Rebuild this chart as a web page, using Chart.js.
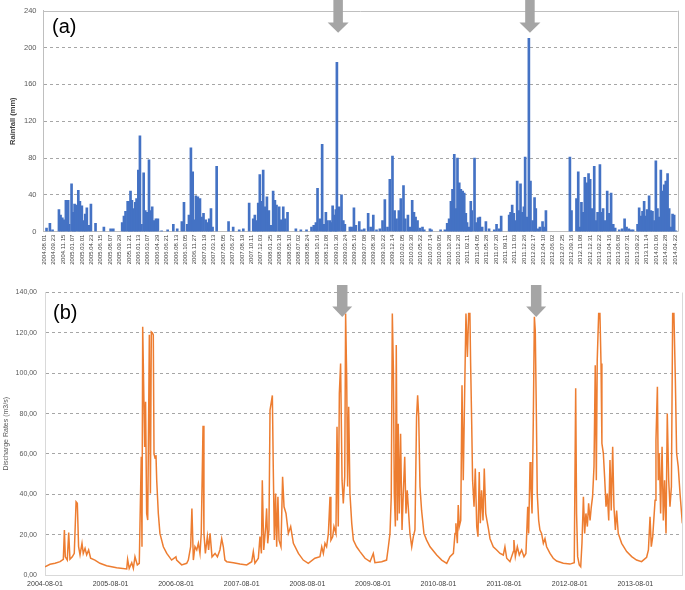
<!DOCTYPE html>
<html>
<head>
<meta charset="utf-8">
<script src="https://cdn.jsdelivr.net/npm/chart.js@4.4.1/dist/chart.umd.min.js"></script>
<style>
  body { margin: 0; background: #fff; }
  .panel { position: absolute; left: 0; width: 685px; }
</style>
</head>
<body>
<div class="panel" style="top:0;height:285px"><canvas id="rainChart"></canvas></div>
<div class="panel" style="top:285px;height:305px"><canvas id="flowChart"></canvas></div>
<script>
// Daily rainfall (mm), day number counted from 2004-08-01
const rainDay = [
  13, 32, 47, 83, 92, 102, 111, 122, 135, 141, 154, 164, 171, 178, 192, 201, 212, 222, 231, 240, 252, 263, 289, 336, 374, 389,
  439, 449, 458, 470, 479, 486, 494, 503, 513, 520, 530, 539, 548, 560, 569, 580, 590, 597, 608, 618, 629, 640, 661, 695, 727, 749,
  775, 787, 805, 815, 826, 836, 845, 854, 865, 877, 886, 897, 909, 920, 929, 939, 948, 971, 1038, 1064, 1098, 1121,
  1154, 1177, 1186, 1196, 1205, 1214, 1224, 1233, 1243, 1254, 1265, 1276, 1289, 1299, 1308, 1323, 1333, 1346, 1357, 1370, 1417, 1445, 1477,
  1505, 1518, 1530, 1539, 1552, 1565, 1575, 1586, 1595, 1609, 1614, 1624, 1635, 1642, 1648, 1661, 1674, 1684, 1693, 1721, 1731, 1744, 1755, 1774, 1787, 1802,
  1824, 1838, 1853, 1871, 1890, 1905, 1918, 1933, 1946, 1961, 1973, 1984, 1997, 2008, 2023, 2033, 2048, 2059, 2072, 2082, 2091, 2102, 2115, 2130, 2140, 2172, 2181,
  2232, 2256, 2269, 2280, 2290, 2299, 2309, 2318, 2327, 2337, 2346, 2356, 2365, 2374, 2381, 2393, 2402, 2408, 2423, 2434, 2443, 2453, 2466, 2487, 2505, 2534, 2547, 2562,
  2573, 2618, 2626, 2635, 2644, 2654, 2663, 2674, 2682, 2693, 2701, 2708, 2718, 2729, 2738, 2750, 2761, 2768, 2781, 2791, 2806, 2813, 2825,
  2960, 2969, 2997, 3007, 3016, 3025, 3035, 3044, 3054, 3065, 3074, 3086, 3097, 3106, 3116, 3129, 3138, 3147, 3159, 3170, 3181, 3192, 3204, 3215, 3238, 3254, 3268, 3279, 3292, 3305, 3316,
  3341, 3350, 3360, 3369, 3378, 3388, 3395, 3406, 3416, 3425, 3436, 3444, 3453, 3463, 3472, 3481, 3491, 3500, 3510, 3519, 3528, 3538, 3547, 3557
];
const rainMm = [
  4, 9, 2, 24, 18, 15, 13, 34, 34, 8, 52, 21, 30, 29, 45, 33, 28, 12, 19, 26, 7, 30, 9, 5, 3, 3,
  10, 17, 22, 33, 33, 44, 34, 25, 32, 36, 67, 104, 8, 64, 23, 21, 78, 23, 27, 12, 14, 14, 1, 2, 8, 3,
  11, 32, 8, 18, 91, 65, 13, 39, 38, 36, 16, 20, 13, 10, 14, 25, 5, 71, 11, 5, 2, 3,
  31, 14, 18, 12, 31, 62, 33, 67, 27, 38, 23, 7, 44, 34, 29, 27, 13, 27, 14, 21, 3, 2, 2,
  5, 7, 10, 47, 14, 95, 8, 21, 12, 12, 10, 28, 18, 24, 184, 27, 40, 12, 8, 5, 5, 26, 7, 11, 2, 3,
  20, 5, 18, 2, 3, 12, 35, 5, 57, 82, 23, 14, 23, 36, 50, 14, 18, 5, 34, 21, 16, 12, 4, 5, 2, 3, 2,
  2, 2, 9, 14, 33, 46, 84, 25, 80, 53, 46, 44, 42, 20, 10, 5, 33, 23, 80, 10, 15, 16, 5, 11, 3, 2, 8, 3,
  17, 18, 21, 29, 20, 12, 55, 23, 52, 21, 27, 81, 16, 210, 55, 12, 37, 25, 3, 5, 11, 5, 23,
  81, 23, 36, 65, 5, 32, 21, 59, 53, 63, 57, 25, 71, 12, 21, 73, 21, 25, 12, 44, 20, 42, 8, 4, 2, 3, 14, 5, 3, 2, 2,
  8, 26, 17, 22, 33, 17, 24, 39, 23, 22, 12, 77, 25, 16, 67, 44, 51, 55, 63, 25, 5, 19, 18, 1
];
const rainTickLabels = [
  '2004.08.01', '2004.09.23', '2004.11.15', '2005.01.07', '2005.03.01', '2005.04.23', '2005.06.15', '2005.08.07', '2005.09.29',
  '2005.11.21', '2006.01.13', '2006.03.07', '2006.04.29', '2006.06.21', '2006.08.13', '2006.10.05', '2006.11.27', '2007.01.19',
  '2007.03.13', '2007.05.05', '2007.06.27', '2007.08.19', '2007.10.11', '2007.12.03', '2008.01.25', '2008.03.18', '2008.05.10',
  '2008.07.02', '2008.08.24', '2008.10.16', '2008.12.08', '2009.01.30', '2009.03.24', '2009.05.16', '2009.07.08', '2009.08.30',
  '2009.10.22', '2009.12.14', '2010.02.05', '2010.03.30', '2010.05.22', '2010.07.14', '2010.09.05', '2010.10.28', '2010.12.20',
  '2011.02.11', '2011.04.05', '2011.05.28', '2011.07.20', '2011.09.11', '2011.11.03', '2011.12.26', '2012.02.17', '2012.04.10',
  '2012.06.02', '2012.07.25', '2012.09.16', '2012.11.08', '2012.12.31', '2013.02.22', '2013.04.16', '2013.06.08', '2013.07.31',
  '2013.09.22', '2013.11.14', '2014.01.06', '2014.02.28', '2014.04.22'
];

// Discharge (m3/s), same day numbering
const flowDay = [
  0, 28, 56, 84, 102, 108, 113, 124, 132, 139, 152, 163, 173, 180, 187, 195, 206, 213, 223, 232, 243, 254, 278, 306, 343, 399, 455, 460, 469, 483, 492, 501, 514, 525,
  529, 536, 540, 544, 555, 560, 566, 572, 581, 587, 592, 598, 603, 607, 613, 618, 622, 631, 640, 659, 678, 705, 729, 733, 761, 789, 798,
  811, 818, 826, 835, 845, 854, 863, 870, 880, 885, 893, 904, 911, 919, 930, 947, 960, 974, 984, 993, 1002,
  1012, 1049, 1086, 1123, 1151, 1160, 1169, 1188, 1197, 1205, 1210, 1218, 1229, 1234, 1240, 1247, 1253, 1266, 1271, 1277, 1284, 1290, 1297, 1303, 1314,
  1323, 1331, 1342, 1355, 1368, 1383, 1411, 1438, 1466, 1503, 1531, 1541, 1550, 1559, 1568, 1578, 1587, 1592, 1602, 1609, 1620, 1626, 1633, 1639, 1646,
  1654, 1661, 1669, 1674, 1680, 1685, 1691, 1698, 1708, 1717, 1735, 1754, 1782, 1810, 1828, 1837, 1875, 1902, 1912, 1921, 1928, 1934, 1940, 1945,
  1951, 1956, 1962, 1967, 1973, 1980, 1988, 1995, 2003, 2010, 2017, 2025, 2032, 2042, 2051, 2060, 2069, 2075, 2081, 2088, 2097, 2110, 2125, 2144, 2181, 2209,
  2237, 2255, 2274, 2283, 2288, 2296, 2301, 2307, 2315, 2322, 2329, 2337, 2344, 2352, 2359, 2366, 2370, 2376, 2381, 2389, 2396, 2404, 2411, 2418, 2424,
  2431, 2439, 2446, 2454, 2461, 2469, 2478, 2496, 2515, 2534, 2552, 2561, 2571, 2589, 2608, 2611, 2619, 2630, 2641, 2654, 2667, 2678, 2688, 2693,
  2701, 2706, 2712, 2719, 2725, 2730, 2736, 2741, 2749, 2756, 2765, 2775, 2784, 2793, 2812, 2830, 2849, 2886, 2923, 2947, 2955, 2960, 2966, 2975, 2983,
  2990, 2998, 3005, 3012, 3020, 3027, 3035, 3042, 3049, 3057, 3064, 3070, 3075, 3083, 3090, 3096, 3101, 3109, 3116, 3124, 3131, 3139, 3146, 3153, 3161,
  3168, 3176, 3183, 3192, 3211, 3239, 3267, 3294, 3322, 3350, 3360, 3369, 3376, 3384, 3397, 3402, 3410, 3415, 3421, 3428, 3436, 3443, 3450, 3458,
  3465, 3473, 3480, 3488, 3495, 3502, 3510, 3517, 3526, 3536, 3549
];
const flowRate = [
  4.1, 5.3, 5.8, 6.6, 7.8, 22.3, 9, 7.4, 21, 7.8, 9, 10.7, 36.3, 35.5, 14, 10, 15.7, 10.7, 13.2, 10, 12.4, 8.3, 7.4, 5.8, 4.6, 3.6, 3.0, 7.8, 3.3, 6.1, 3.3, 9.1, 5, 5.8,
  25.6, 58.6, 14, 123, 63.5, 85.8, 30.5, 27.2, 119, 40.4, 120.5, 120, 119, 60, 57.8, 59.4, 47, 30.5, 20.6, 14, 10.7, 7.4, 9, 7.4, 5, 5.8, 7.4,
  14, 33, 7.4, 14, 12.4, 15.7, 10.7, 20.6, 74, 20.6, 10.7, 19, 12.4, 20.6, 9, 10.7, 9, 12.4, 18, 14, 7.4,
  6.6, 6.1, 5.4, 5, 6.6, 11.6, 5.8, 8.3, 19, 10.7, 47, 12.4, 24, 33, 15.7, 22.3, 81.7, 89, 53.7, 17.3, 40.4, 14, 38.8, 17.3, 14,
  48.7, 33.8, 30.5, 20.6, 24, 15.7, 10.7, 7.4, 5.8, 8.3, 9.1, 14, 10.7, 15.7, 14, 20.6, 38.8, 17.3, 19, 24, 20.6, 73.5, 24, 90, 104.8,
  47, 35.5, 48.7, 129.6, 96.6, 43.8, 83.4, 40.4, 25.6, 17.3, 14, 11.6, 8.3, 6.6, 10.7, 6.1, 6.6, 7.4, 14, 20.6, 38.8, 129.6, 101.5, 40.4,
  24, 114, 27, 75, 30.5, 70, 22.3, 40.4, 58.6, 30.5, 42, 30.5, 20.6, 14, 19, 22.3, 78.4, 89, 78.4, 43.8, 32, 20.6, 17.3, 14, 9.9, 7.4,
  5.8, 9.1, 10.7, 20.6, 25.6, 15.7, 34.7, 24, 27, 94, 47, 91.6, 129.6, 108, 129.6, 129.6, 104.8, 75, 47, 33.8, 52.8, 24, 19, 51, 25.6,
  42, 27, 52.8, 30.5, 27, 23, 18, 14, 12.4, 10.7, 9.9, 14, 8.3, 6.6, 11.6, 17.3, 9.1, 14, 9.9, 12.4, 9.1, 10.7, 33.8, 20.6,
  56, 43.8, 30.5, 76.8, 128, 121, 80, 40.4, 27, 22.3, 20.6, 15.7, 18, 14, 10.7, 8.3, 6.9, 5.8, 5.4, 6.1, 92.5, 30.5, 9.1, 5, 4.1,
  15.7, 38.8, 20.6, 30.5, 24, 35.5, 27, 33.8, 38.8, 53.7, 104, 47, 106.5, 129.6, 129.6, 104.8, 65.2, 60.3, 48.7, 33.8, 40.4, 27, 57, 32, 63.5,
  33.8, 22.3, 32, 20.6, 15.7, 11.6, 9.1, 7.4, 6.6, 8.8, 12.4, 28.9, 14, 19, 37, 66.9, 93.3, 47, 60.3, 30.5, 63.5, 27, 47, 20.6,
  80, 47, 33.8, 43.8, 129.6, 129.6, 96.6, 60.3, 53.7, 40.4, 25.6
];
const flowTickLabels = [
  '2004-08-01', '2005-08-01', '2006-08-01', '2007-08-01', '2008-08-01',
  '2009-08-01', '2010-08-01', '2011-08-01', '2012-08-01', '2013-08-01'
];

// the two marked storm events (arrows)
const arrowDay = [1655, 2735];

const T0 = Date.UTC(2004, 7, 1);
function dayOf(s) {
  const p = s.split(/[.\-]/).map(Number);
  return Math.round((Date.UTC(p[0], p[1] - 1, p[2]) - T0) / 864e5);
}
const rainTickDay = rainTickLabels.map(dayOf);
const flowTickDay = flowTickLabels.map(dayOf);

Chart.defaults.font.family = "'Liberation Sans', Arial, sans-serif";
Chart.defaults.animation = false;

function drawArrow(ctx, cx, top, headTop, tip, sw, hw) {
  ctx.save();
  ctx.fillStyle = '#a5a5a5';
  ctx.beginPath();
  ctx.moveTo(cx - sw / 2, top);
  ctx.lineTo(cx + sw / 2, top);
  ctx.lineTo(cx + sw / 2, headTop);
  ctx.lineTo(cx + hw / 2, headTop);
  ctx.lineTo(cx, tip);
  ctx.lineTo(cx - hw / 2, headTop);
  ctx.lineTo(cx - sw / 2, headTop);
  ctx.closePath();
  ctx.fill();
  ctx.restore();
}

// frame lines, panel letter and arrows
const decoPlugin = {
  id: 'deco',
  beforeDatasetsDraw(chart, args, opts) {
    const a = chart.chartArea;
    const ctx = chart.ctx;
    ctx.save();
    ctx.strokeStyle = opts.frameColor;
    ctx.lineWidth = 1;
    ctx.beginPath();
    ctx.moveTo(Math.round(a.right) + 0.5, a.top);
    ctx.lineTo(Math.round(a.right) + 0.5, a.bottom);
    if (opts.topLine) {
      ctx.moveTo(a.left, Math.round(a.top) + 0.5);
      ctx.lineTo(a.right, Math.round(a.top) + 0.5);
    }
    ctx.stroke();
    ctx.restore();
  },
  afterDraw(chart, args, opts) {
    const ctx = chart.ctx;
    ctx.save();
    ctx.fillStyle = '#000';
    ctx.font = "20px 'Liberation Sans', Arial, sans-serif";
    ctx.textBaseline = 'top';
    ctx.fillText(opts.letter, opts.letterX, opts.letterY);
    ctx.restore();
    const xs = chart.scales.x;
    const ar = opts.arrow;
    arrowDay.forEach(d => {
      drawArrow(ctx, xs.getPixelForValue(d), ar.top, ar.headTop, ar.tip, ar.sw, ar.hw);
    });
  }
};

const dashGrid = ctx => (ctx.tick.value === 0 || ctx.tick.value === ctx.scale.max && ctx.chart.canvas.id === 'rainChart') ? 'transparent' : '#a6a6a6';

// fixed axis sizes so the plot areas land where they are in the original
const fixY = w => s => { s.width = w; s.paddingTop = 0; s.paddingBottom = 0; };
const fixX = h => s => { s.height = h; s.paddingLeft = 0; s.paddingRight = 0; };

new Chart(document.getElementById('rainChart'), {
  type: 'bar',
  data: {
    datasets: [{
      label: 'Rainfall (mm)',
      data: rainDay.map((d, i) => ({ x: d, y: rainMm[i] })),
      backgroundColor: '#4472C4',
      borderWidth: 0,
      barThickness: 2
    }]
  },
  options: {
    responsive: true,
    maintainAspectRatio: false,
    layout: { padding: { top: 10.7, right: 7.3, left: 0, bottom: 0 } },
    plugins: {
      legend: { display: false },
      tooltip: { enabled: false },
      deco: {
        frameColor: '#bfbfbf', topLine: true, letter: '(a)', letterX: 52, letterY: 17,
        arrow: { top: 0, headTop: 22.5, tip: 32.7, sw: 9.5, hw: 21 }
      }
    },
    scales: {
      x: {
        type: 'linear',
        min: -4,
        max: 3567,
        offset: false,
        grid: { display: false, offset: false, drawTicks: false },
        border: { display: true, color: '#bfbfbf' },
        afterBuildTicks: s => { s.ticks = rainTickDay.map(v => ({ value: v })); },
        afterFit: fixX(53.3),
        ticks: {
          autoSkip: false,
          minRotation: 90,
          maxRotation: 90,
          padding: 3,
          color: '#404040',
          font: { size: 6 },
          callback: (v, i) => rainTickLabels[i]
        }
      },
      y: {
        min: 0,
        max: 240,
        afterFit: fixY(43.5),
        ticks: { stepSize: 40, padding: 7, color: '#595959', font: { size: 7.5 } },
        grid: { color: dashGrid, lineWidth: 1, drawTicks: false },
        border: { display: true, color: '#bfbfbf', dash: [3, 3] },
        title: {
          display: true, text: 'Rainfall (mm)', color: '#404040',
          font: { size: 7.5, weight: 'bold' }, padding: { top: 8, bottom: 0 }
        }
      }
    }
  },
  plugins: [decoPlugin]
});

new Chart(document.getElementById('flowChart'), {
  type: 'line',
  data: {
    datasets: [{
      label: 'Discharge Rates (m3/s)',
      data: flowDay.map((d, i) => ({ x: d, y: flowRate[i] })),
      borderColor: '#ED7D31',
      borderWidth: 1.5,
      pointRadius: 0,
      tension: 0
    }]
  },
  options: {
    responsive: true,
    maintainAspectRatio: false,
    layout: { padding: { top: 7.5, right: 3, left: 0, bottom: 0 } },
    plugins: {
      legend: { display: false },
      tooltip: { enabled: false },
      deco: {
        frameColor: '#d9d9d9', topLine: false, letter: '(b)', letterX: 53, letterY: 18,
        arrow: { top: 0, headTop: 21.5, tip: 32, sw: 10.5, hw: 20 }
      }
    },
    scales: {
      x: {
        type: 'linear',
        min: 0,
        max: 3547,
        grid: { display: false, drawTicks: false },
        border: { display: true, color: '#d9d9d9' },
        afterBuildTicks: s => { s.ticks = flowTickDay.map(v => ({ value: v })); },
        afterFit: fixX(15),
        ticks: {
          autoSkip: false,
          maxRotation: 0,
          padding: 5,
          color: '#404040',
          font: { size: 7 },
          callback: (v, i) => flowTickLabels[i]
        }
      },
      y: {
        min: 0,
        max: 140,
        afterFit: fixY(45),
        ticks: {
          stepSize: 20, padding: 8, color: '#595959', font: { size: 7 },
          callback: v => v.toFixed(2).replace('.', ',')
        },
        grid: { color: dashGrid, lineWidth: 1, drawTicks: false },
        border: { display: true, color: '#d9d9d9', dash: [3, 3] },
        title: {
          display: true, text: 'Discharge Rates (m3/s)', color: '#595959',
          font: { size: 7 }, padding: { top: 2, bottom: 0 }
        }
      }
    }
  },
  plugins: [decoPlugin]
});
</script>
</body>
</html>
